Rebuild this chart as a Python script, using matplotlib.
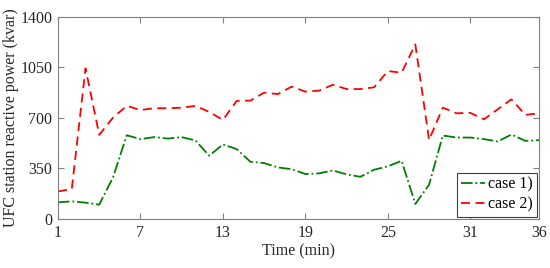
import numpy as np
import matplotlib.pyplot as plt

t = np.arange(1, 37)
case1 = [115, 122, 113, 99, 288, 580, 553, 567, 557, 567, 544, 438, 516, 484, 396, 387,
         357, 345, 311, 316, 336, 309, 292, 341, 364, 403, 104, 237, 578, 564, 564, 553,
         537, 585, 541, 546]
case2 = [191, 207, 1043, 583, 702, 783, 755, 767, 767, 771, 783, 742, 686, 818, 820, 875,
         865, 917, 882, 889, 930, 900, 900, 912, 1025, 1013, 1209, 548, 771, 732, 735, 691,
         760, 829, 721, 732]
xticks = [1, 7, 13, 19, 25, 31, 36]
yticks = [0, 350, 700, 1050, 1400]

plt.rcParams['font.family'] = ['Liberation Serif', 'DejaVu Serif']
fs = 11.5

fig = plt.figure(figsize=(5.5, 2.68), dpi=100)
ax = fig.add_axes([0.1055, 0.183, 0.8745, 0.754])

ax.plot(t, case1, color='#008000', linestyle='-.', lw=1.3, label='case 1)')
ax.plot(t, case2, color='#ff0000', linestyle=(0, (5, 3)), lw=1.3, label='case 2)')

ax.set_xlim(1, 36)
ax.set_ylim(0, 1400)
ax.set_xticks(xticks)
ax.set_yticks(yticks)
ax.tick_params(direction='in', top=True, right=True, colors='#262626', length=4,
               color='#808080', labelsize=fs, pad=4)
for sp in ax.spines.values():
    sp.set_color('#808080')
    sp.set_linewidth(0.8)

ax.set_xlabel('Time (min)', color='#262626', fontsize=fs, labelpad=2)
ax.set_ylabel('UFC station reactive power (kvar)', color='#262626', fontsize=fs, labelpad=1)

leg = ax.legend(loc='lower right', fancybox=False, framealpha=1, edgecolor='#404040',
                borderaxespad=0.15, handlelength=1.5, handletextpad=0.2,
                labelspacing=0.25, borderpad=0.25, fontsize=fs)
leg.get_frame().set_linewidth(0.8)

fig.savefig('out.png', dpi=100)
